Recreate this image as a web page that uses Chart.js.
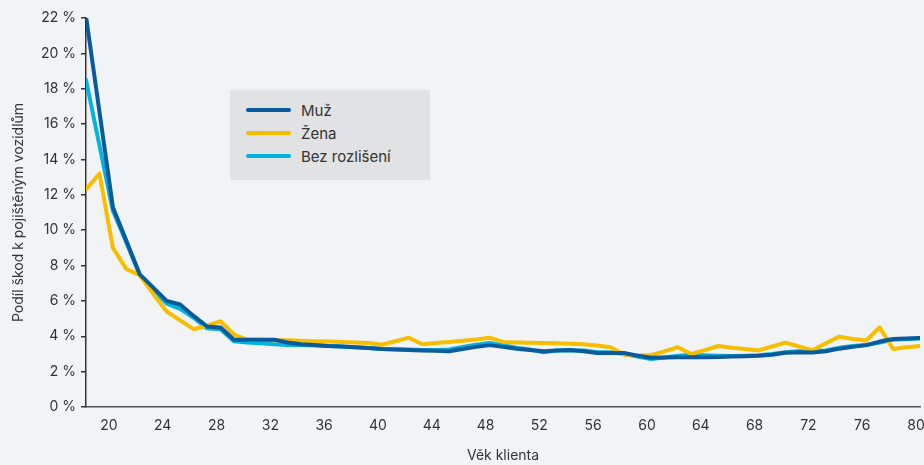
<!DOCTYPE html>
<html>
<head>
<meta charset="utf-8">
<script src="https://cdn.jsdelivr.net/npm/chart.js@4/dist/chart.umd.min.js"></script>
<style>
html,body{margin:0;padding:0;background:#f2f3f5;}
#wrap{position:relative;width:924px;height:465px;overflow:hidden;}
canvas{display:block;}
#legend{position:absolute;left:230px;top:90px;width:200px;height:90px;background:#e1e2e4;font-family:Inter, Roboto, sans-serif;font-size:15px;color:#333;}
.item{position:absolute;left:16px;height:20px;display:flex;align-items:center;white-space:nowrap;}
.sw{width:45px;height:4px;border-radius:2px;margin-right:10px;}
</style>
</head>
<body>
<div id="wrap"><canvas id="c" width="924" height="465"></canvas><div id="legend"></div></div>
<script>
const ages = [18,19,20,21,22,23,24,25,26,27,28,29,30,31,32,33,34,35,36,37,38,39,40,41,42,43,44,45,46,47,48,49,50,51,52,53,54,55,56,57,58,59,60,61,62,63,64,65,66,67,68,69,70,71,72,73,74,75,76,77,78,79,80];

const muz = [22.1,16.7,11.3,9.4,7.5,6.75,6.0,5.8,5.15,4.55,4.5,3.8,3.8,3.8,3.8,3.65,3.55,3.5,3.45,3.42,3.38,3.33,3.28,3.25,3.22,3.2,3.18,3.15,3.28,3.4,3.5,3.4,3.3,3.22,3.15,3.2,3.22,3.15,3.05,3.05,3.05,2.9,2.78,2.8,2.82,2.82,2.82,2.83,2.85,2.87,2.9,2.95,3.07,3.1,3.08,3.15,3.3,3.4,3.5,3.7,3.85,3.88,3.9];

const zena = [12.3,13.2,9.0,7.8,7.45,6.4,5.4,4.9,4.4,4.6,4.85,4.1,3.8,3.8,3.78,3.77,3.75,3.72,3.7,3.68,3.65,3.62,3.52,3.72,3.92,3.55,3.62,3.68,3.75,3.82,3.92,3.68,3.65,3.63,3.62,3.6,3.58,3.55,3.48,3.38,2.95,2.93,2.93,3.15,3.38,3.0,3.22,3.45,3.35,3.28,3.2,3.42,3.64,3.42,3.2,3.6,3.98,3.85,3.76,4.5,3.28,3.38,3.45];

const bez = [18.5,14.8,11.1,9.3,7.45,6.6,5.85,5.55,5.05,4.45,4.4,3.72,3.65,3.6,3.55,3.5,3.5,3.48,3.45,3.42,3.38,3.33,3.28,3.27,3.25,3.23,3.22,3.25,3.4,3.52,3.62,3.5,3.35,3.25,3.1,3.2,3.2,3.2,3.1,3.1,3.0,2.85,2.72,2.8,2.9,2.95,2.92,2.9,2.88,2.9,2.93,3.0,3.1,3.15,3.15,3.2,3.35,3.45,3.5,3.65,3.8,3.85,3.88];

const seriesNames = ['Muž','Žena','Bez rozlišení'];
const seriesColors = ['#0a5a9c','#f7be00','#00b3e0'];
const xTicks = [20,24,28,32,36,40,44,48,52,56,60,64,68,72,76,80];
const yTicks = [0,2,4,6,8,10,12,14,16,18,20,22];
const xTitle = 'Věk klienta';
const yTitle = 'Podíl škod k pojištěným vozidlům';

const FONT = 'Inter, Roboto, sans-serif';
const TXT = '#333';

const toXY = arr => ages.map((a,i)=>({x:a,y:arr[i]}));
const seriesValues = [muz, zena, bez];

const datasets = seriesNames.map((n,i)=>({
  label:n,
  data:toXY(seriesValues[i]),
  borderColor:seriesColors[i],
  backgroundColor:seriesColors[i],
  borderWidth:4,
  pointRadius:0,
  tension:0,
  borderJoinStyle:'round',
  borderCapStyle:'round',
  fill:false,
  order:i
}));

const chart = new Chart(document.getElementById('c'), {
  type:'line',
  data:{datasets},
  options:{
    responsive:false,
    animation:false,
    devicePixelRatio:1,
    layout:{padding:{left:0,right:4,top:18,bottom:0}},
    plugins:{legend:{display:false},tooltip:{enabled:false}},
    scales:{
      x:{
        type:'linear',
        min:ages[0],
        max:ages[ages.length-1],
        afterBuildTicks:s=>{s.ticks = xTicks.map(v=>({value:v}));},
        afterFit:s=>{s.height=58; s.paddingLeft=0; s.paddingRight=0;},
        ticks:{font:{family:FONT,size:14},color:TXT,padding:10,labelOffset:-4,maxRotation:0,autoSkip:false,callback:v=>String(v)},
        grid:{display:true,drawOnChartArea:false,drawTicks:false},
        border:{display:true,color:'#555',width:1.5},
        title:{display:true,text:xTitle,font:{family:FONT,size:14},color:TXT,padding:{top:0,bottom:1}}
      },
      y:{
        min:0,max:22,
        afterBuildTicks:s=>{s.ticks = yTicks.map(v=>({value:v}));},
        afterFit:s=>{s.width=86; s.paddingTop=0; s.paddingBottom=0;},
        ticks:{font:{family:FONT,size:14},color:TXT,padding:5,callback:v=>v+' %'},
        grid:{display:true,drawOnChartArea:false,drawTicks:true,tickLength:5,color:'#333',lineWidth:1.5},
        border:{display:true,color:'#333',width:1.5},
        title:{display:true,text:yTitle,font:{family:FONT,size:14},color:TXT,padding:{top:10,bottom:0}}
      }
    }
  }
});

// HTML legend built from the chart's datasets
const lg = document.getElementById('legend');
const rowsY = [10,33,56];
chart.data.datasets.forEach((ds,i)=>{
  const it = document.createElement('div');
  it.className='item';
  it.style.top = rowsY[i]+'px';
  const sw = document.createElement('span');
  sw.className='sw';
  sw.style.background = ds.borderColor;
  const t = document.createElement('span');
  t.textContent = ds.label;
  it.appendChild(sw); it.appendChild(t);
  lg.appendChild(it);
});
</script>
</body>
</html>
